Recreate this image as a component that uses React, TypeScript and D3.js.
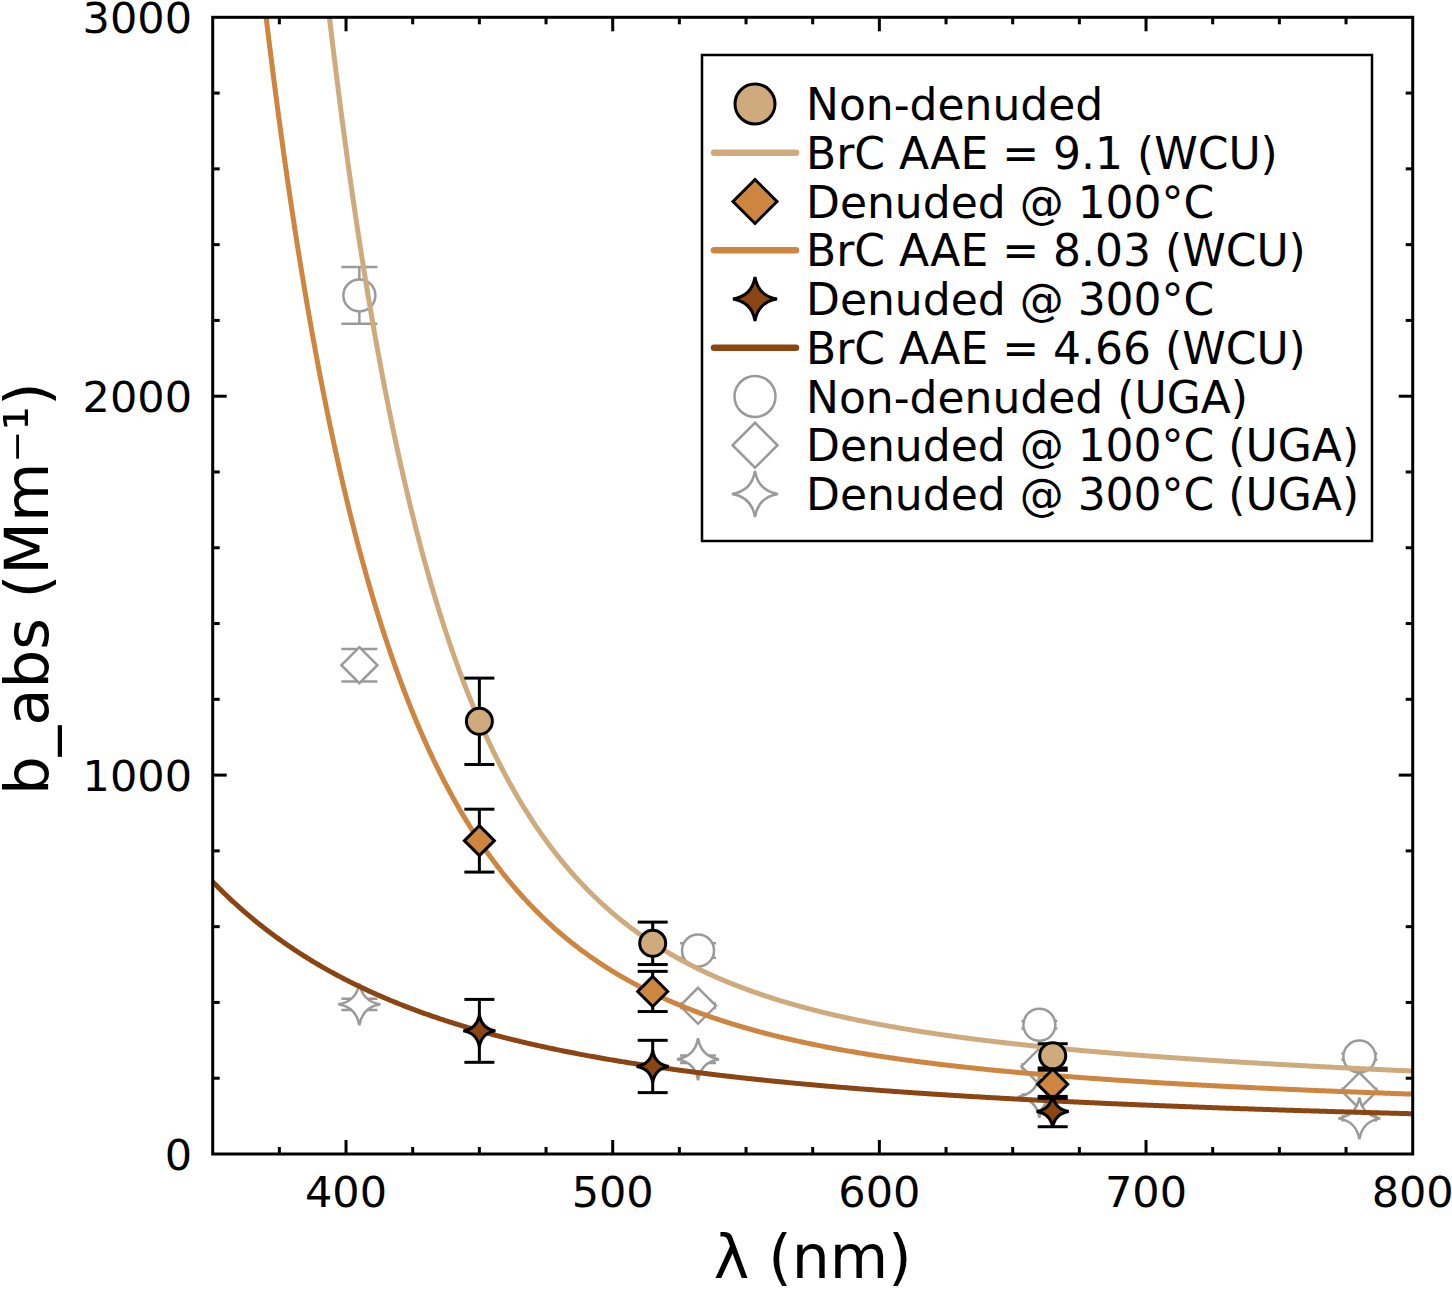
import { useEffect, useRef } from "react";
import * as d3 from "d3";

// WCU measurements (nm, Mm^-1)
const wcuWavelengths = [450, 515, 665];
const nonDenuded = [1142, 556, 259];
const nonDenudedErr = [114, 56, 32];
const denuded100 = [827, 429, 184];
const denuded100Err = [83, 53, 37];
const denuded300 = [325, 231, 112];
const denuded300Err = [83, 69, 40];

// UGA measurements
const ugaWavelengths = [405, 532, 660, 780];
const ugaNonDenuded = [2266, 537, 341, 257];
const ugaNonDenudedErr = [75, 19, 10, 8];
const ugaDenuded100 = [1290, 391, 231, 167];
const ugaDenuded100Err = [43, 6, 6, 5];
const ugaDenuded300 = [395, 250, 151, 94];
const ugaDenuded300Err = [15, 10, 6, 5];

// fits: BrC power law + BC (AAE = 1), amplitudes at 450 nm
const fitAAE = [9.1, 8.03, 4.66];
const fitBrC450 = [761, 555, 155];
const fitBC450 = [382, 271, 170];

const xTicks = [400, 500, 600, 700, 800];
const yTicks = [0, 1000, 2000, 3000];

const legendLabels = [
  "Non-denuded",
  "BrC AAE = 9.1 (WCU)",
  "Denuded @ 100°C",
  "BrC AAE = 8.03 (WCU)",
  "Denuded @ 300°C",
  "BrC AAE = 4.66 (WCU)",
  "Non-denuded (UGA)",
  "Denuded @ 100°C (UGA)",
  "Denuded @ 300°C (UGA)",
];

const TAN = "#cfaa7d";
const PERU = "#cd853f";
const BROWN = "#8b4513";
const GRAY = "#9a9a9a";
const FONT = "DejaVu Sans, sans-serif";

function diamondPath(h: number) {
  return `M0,${-h}L${h},0L0,${h}L${-h},0Z`;
}

function starPath(r: number) {
  const k = 0.14 * r;
  return `M0,${-r}Q${k},${-k} ${r},0Q${k},${k} 0,${r}Q${-k},${k} ${-r},0Q${-k},${-k} 0,${-r}Z`;
}

export default function App() {
  const ref = useRef<SVGSVGElement>(null);

  useEffect(() => {
    if (!ref.current) return;
    const svg = d3.select(ref.current);
    svg.selectAll("*").remove();

    const width = 1452;
    const height = 1289;
    const left = 212.7;
    const right = 1412.7;
    const top = 17.3;
    const bottom = 1154;

    const x = d3.scaleLinear().domain([350, 800]).range([left, right]);
    const y = d3.scaleLinear().domain([0, 3000]).range([bottom, top]);

    svg.attr("width", width).attr("height", height);
    svg.append("rect").attr("width", width).attr("height", height).attr("fill", "#fff");

    svg
      .append("clipPath")
      .attr("id", "plot-clip")
      .append("rect")
      .attr("x", left)
      .attr("y", top)
      .attr("width", right - left)
      .attr("height", bottom - top);

    // UGA points (under the fits)
    const ugaSets = [
      { vals: ugaNonDenuded, err: ugaNonDenudedErr, shape: "circle", size: 16 },
      { vals: ugaDenuded100, err: ugaDenuded100Err, shape: "diamond", size: 18 },
      { vals: ugaDenuded300, err: ugaDenuded300Err, shape: "star", size: 21 },
    ];
    const ugaG = svg.append("g");
    ugaSets.forEach((s) => {
      ugaWavelengths.forEach((w, i) => {
        const cx = x(w);
        const g = ugaG.append("g").attr("stroke", GRAY).attr("stroke-width", 2.5);
        g.append("line").attr("x1", cx).attr("x2", cx).attr("y1", y(s.vals[i] - s.err[i])).attr("y2", y(s.vals[i] + s.err[i]));
        [s.vals[i] - s.err[i], s.vals[i] + s.err[i]].forEach((v) =>
          g.append("line").attr("x1", cx - 18).attr("x2", cx + 18).attr("y1", y(v)).attr("y2", y(v))
        );
        const p = s.shape === "circle" ? null : s.shape === "diamond" ? diamondPath(s.size) : starPath(s.size);
        if (p) {
          g.append("path").attr("d", p).attr("transform", `translate(${cx},${y(s.vals[i])})`).attr("fill", "#fff");
        } else {
          g.append("circle").attr("cx", cx).attr("cy", y(s.vals[i])).attr("r", s.size).attr("fill", "#fff");
        }
      });
    });

    // fit curves
    const fitColors = [TAN, PERU, BROWN];
    const lam = d3.range(350, 800.5, 0.5);
    const line = d3
      .line<number>()
      .x((d) => x(d[0]))
      .y((d) => y(d[1]));
    const curves = svg.append("g").attr("clip-path", "url(#plot-clip)");
    fitAAE.forEach((aae, k) => {
      const pts = lam.map((l) => [l, fitBrC450[k] * Math.pow(l / 450, -aae) + fitBC450[k] * Math.pow(l / 450, -1)]) as any;
      curves
        .append("path")
        .attr("d", line(pts))
        .attr("fill", "none")
        .attr("stroke", fitColors[k])
        .attr("stroke-width", 5);
    });

    // WCU points
    const wcuSets = [
      { vals: nonDenuded, err: nonDenudedErr, shape: "circle", color: TAN, size: 13 },
      { vals: denuded100, err: denuded100Err, shape: "diamond", color: PERU, size: 15 },
      { vals: denuded300, err: denuded300Err, shape: "star", color: BROWN, size: 16 },
    ];
    const wcuG = svg.append("g");
    wcuSets.forEach((s) => {
      wcuWavelengths.forEach((w, i) => {
        const cx = x(w);
        const g = wcuG.append("g").attr("stroke", "#000").attr("stroke-width", 3);
        g.append("line").attr("x1", cx).attr("x2", cx).attr("y1", y(s.vals[i] - s.err[i])).attr("y2", y(s.vals[i] + s.err[i]));
        [s.vals[i] - s.err[i], s.vals[i] + s.err[i]].forEach((v) =>
          g.append("line").attr("x1", cx - 15).attr("x2", cx + 15).attr("y1", y(v)).attr("y2", y(v))
        );
        if (s.shape === "circle") {
          g.append("circle").attr("cx", cx).attr("cy", y(s.vals[i])).attr("r", s.size).attr("fill", s.color);
        } else {
          const p = s.shape === "diamond" ? diamondPath(s.size) : starPath(s.size);
          g.append("path").attr("d", p).attr("transform", `translate(${cx},${y(s.vals[i])})`).attr("fill", s.color).attr("stroke-linejoin", "miter");
        }
      });
    });

    // frame and ticks
    const axes = svg.append("g").attr("stroke", "#000").attr("stroke-width", 3);
    axes
      .append("rect")
      .attr("x", left)
      .attr("y", top)
      .attr("width", right - left)
      .attr("height", bottom - top)
      .attr("fill", "none");

    d3.range(375, 800, 25).forEach((t) => {
      const len = t % 100 === 0 ? 14 : 7;
      axes.append("line").attr("x1", x(t)).attr("x2", x(t)).attr("y1", bottom).attr("y2", bottom - len);
      axes.append("line").attr("x1", x(t)).attr("x2", x(t)).attr("y1", top).attr("y2", top + len);
    });
    d3.range(200, 3000, 200).forEach((t) => {
      const len = t % 1000 === 0 ? 14 : 7;
      axes.append("line").attr("x1", left).attr("x2", left + len).attr("y1", y(t)).attr("y2", y(t));
      axes.append("line").attr("x1", right).attr("x2", right - len).attr("y1", y(t)).attr("y2", y(t));
    });

    svg
      .append("g")
      .selectAll("text")
      .data(xTicks)
      .enter()
      .append("text")
      .attr("x", (d) => x(d))
      .attr("y", 1207)
      .attr("text-anchor", "middle")
      .attr("font-family", FONT)
      .attr("font-size", 43)
      .text((d) => d);

    svg
      .append("g")
      .selectAll("text")
      .data(yTicks)
      .enter()
      .append("text")
      .attr("x", 192)
      .attr("y", (d) => y(d) + 15.5)
      .attr("text-anchor", "end")
      .attr("font-family", FONT)
      .attr("font-size", 43)
      .text((d) => d);

    svg
      .append("text")
      .attr("x", (left + right) / 2)
      .attr("y", 1278)
      .attr("text-anchor", "middle")
      .attr("font-family", FONT)
      .attr("font-size", 60)
      .text("λ (nm)");

    svg
      .append("text")
      .attr("transform", `translate(48,${(top + bottom) / 2 + 3}) rotate(-90)`)
      .attr("text-anchor", "middle")
      .attr("font-family", FONT)
      .attr("font-size", 61)
      .text("b_abs (Mm⁻¹)");

    // legend
    const legend = svg.append("g");
    legend
      .append("rect")
      .attr("x", 702)
      .attr("y", 55)
      .attr("width", 670)
      .attr("height", 486)
      .attr("fill", "#fff")
      .attr("stroke", "#000")
      .attr("stroke-width", 2.5);

    const mx = 755;
    legendLabels.forEach((label, i) => {
      const cy = 104 + i * 48.75;
      const g = legend.append("g");
      if (i === 0) {
        g.append("circle").attr("cx", mx).attr("cy", cy).attr("r", 20).attr("fill", TAN).attr("stroke", "#000").attr("stroke-width", 3);
      } else if (i === 2) {
        g.append("path").attr("d", diamondPath(22)).attr("transform", `translate(${mx},${cy})`).attr("fill", PERU).attr("stroke", "#000").attr("stroke-width", 3);
      } else if (i === 4) {
        g.append("path").attr("d", starPath(22)).attr("transform", `translate(${mx},${cy})`).attr("fill", BROWN).attr("stroke", "#000").attr("stroke-width", 3);
      } else if (i === 1 || i === 3 || i === 5) {
        g.append("line")
          .attr("x1", 714)
          .attr("x2", 796)
          .attr("y1", cy)
          .attr("y2", cy)
          .attr("stroke", fitColors[(i - 1) / 2])
          .attr("stroke-width", 6.5)
          .attr("stroke-linecap", "round");
      } else if (i === 6) {
        g.append("circle").attr("cx", mx).attr("cy", cy).attr("r", 20.5).attr("fill", "#fff").attr("stroke", GRAY).attr("stroke-width", 2.5);
      } else if (i === 7) {
        g.append("path").attr("d", diamondPath(22.5)).attr("transform", `translate(${mx},${cy})`).attr("fill", "#fff").attr("stroke", GRAY).attr("stroke-width", 2.5);
      } else {
        g.append("path").attr("d", starPath(23)).attr("transform", `translate(${mx},${cy})`).attr("fill", "#fff").attr("stroke", GRAY).attr("stroke-width", 2.5);
      }
      g.append("text")
        .attr("x", 806)
        .attr("y", cy + 16)
        .attr("font-family", FONT)
        .attr("font-size", 44)
        .text(label);
    });
  }, []);

  return (
    <div style={{ position: "absolute", left: 0, top: 0 }}>
      <svg ref={ref} style={{ display: "block" }} />
    </div>
  );
}
